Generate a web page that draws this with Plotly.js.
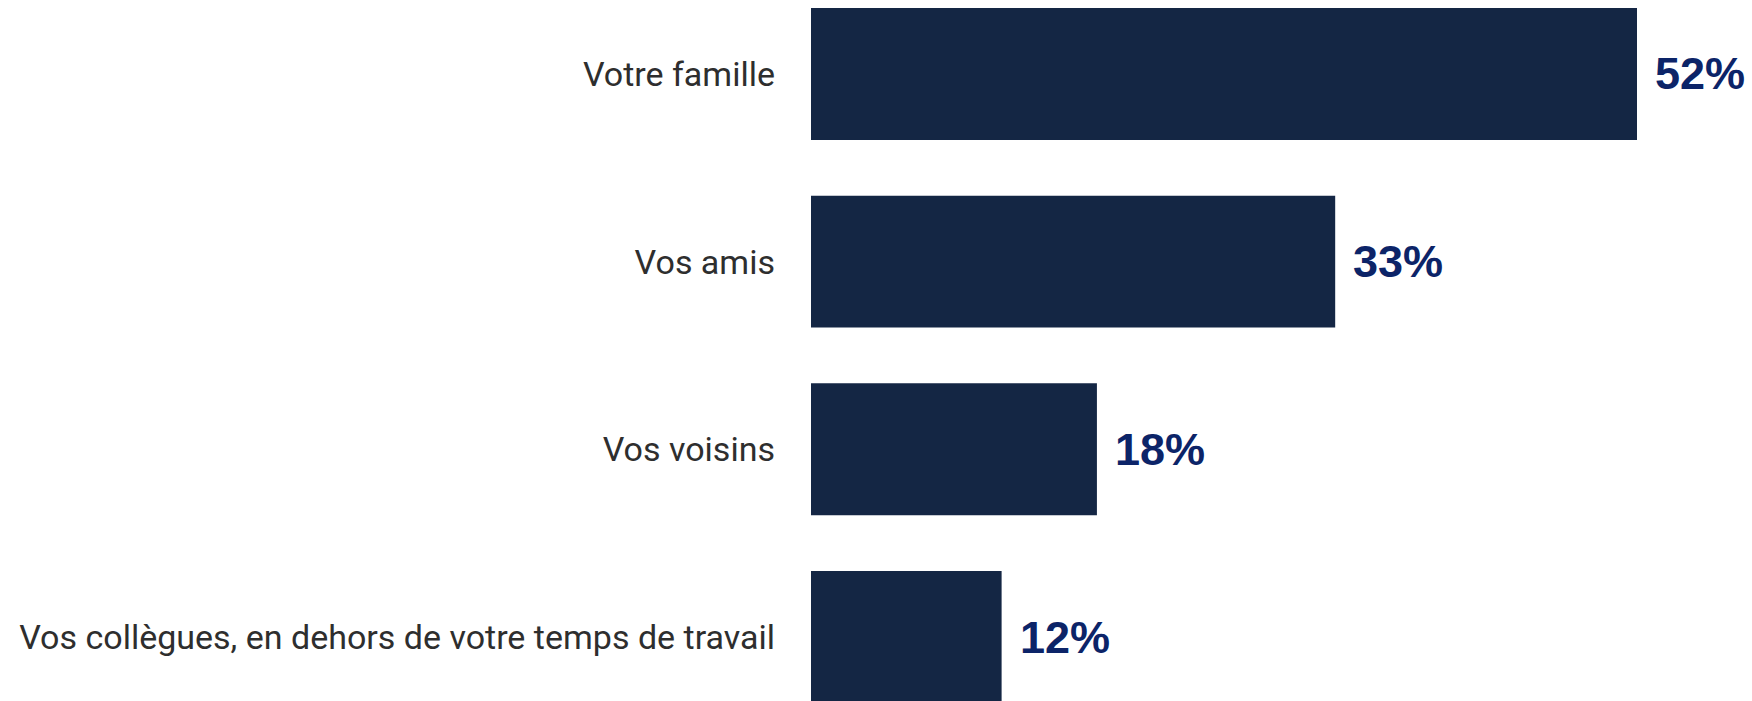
<!DOCTYPE html>
<html>
<head>
<meta charset="utf-8">
<script src="https://cdn.plot.ly/plotly-3.0.1.min.js"></script>
<style>html,body{margin:0;padding:0;background:#fff;}#chart{width:1752px;height:701px;}</style>
</head>
<body>
<div id="chart"></div>
<script>
const categories = ["Votre famille", "Vos amis", "Vos voisins", "Vos collègues, en dehors de votre temps de travail"];
const values = [52, 33, 18, 12];
const valueLabels = ["52%", "33%", "18%", "12%"];

const barColor = "#142644";
const labelColor = "#0c2468";

const trace = {
  type: "bar",
  orientation: "h",
  x: values,
  y: categories,
  marker: {color: barColor},
  width: 0.703,
  hoverinfo: "skip"
};

const annotations = categories.map((c, i) => ({
  x: values[i], y: c, xref: "x", yref: "y",
  text: "<b>" + valueLabels[i] + "</b>",
  showarrow: false, xanchor: "left", yanchor: "middle", xshift: 16,
  font: {family: "Liberation Sans, Arial, sans-serif", size: 45, color: labelColor}
}));

const layout = {
  width: 1752, height: 701,
  margin: {l: 811, r: 0, t: 0, b: 0, pad: 0},
  paper_bgcolor: "#ffffff", plot_bgcolor: "#ffffff",
  showlegend: false,
  xaxis: {range: [0, 59.24], visible: false, fixedrange: true},
  yaxis: {
    type: "category",
    range: [3.341, -0.394],
    showgrid: false, zeroline: false, showline: false,
    ticks: "", ticklabelstandoff: 35,
    tickfont: {family: "Roboto, sans-serif", size: 34, color: "#2e2e2e"},
    automargin: false
  },
  annotations: annotations
};

Plotly.newPlot("chart", [trace], layout, {displayModeBar: false, staticPlot: true});
</script>
</body>
</html>
